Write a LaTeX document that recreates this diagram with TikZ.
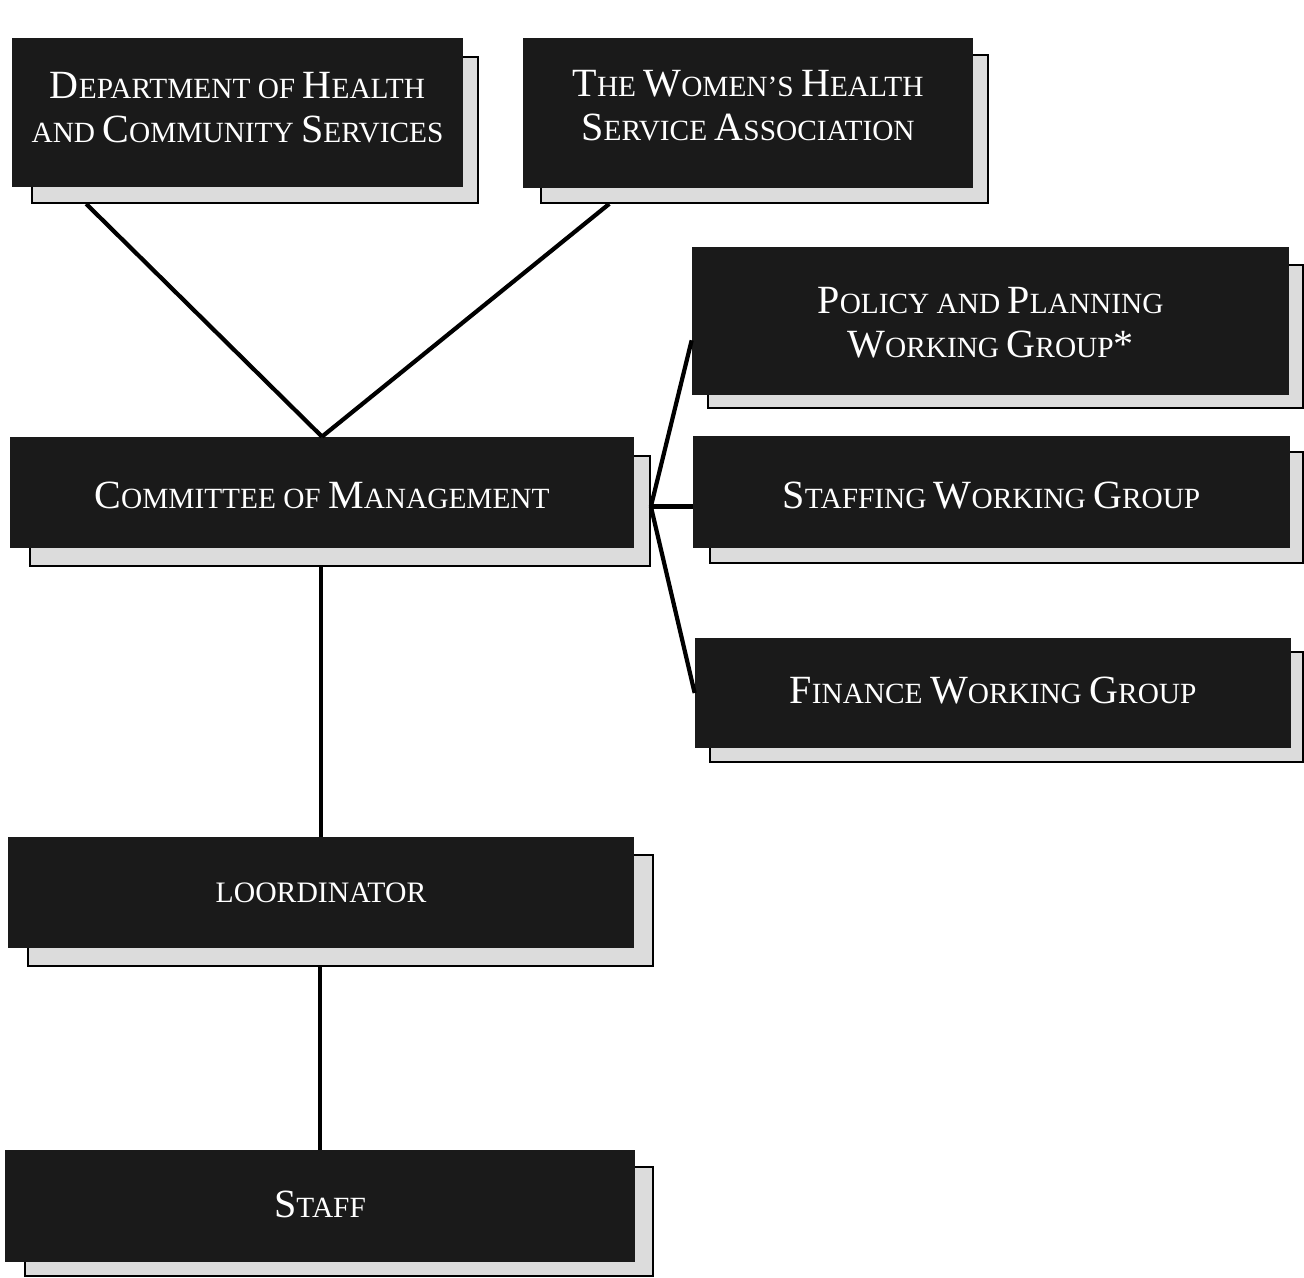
\documentclass[tikz,border=0pt]{standalone}
\usepackage{fontspec}
\setmainfont{Liberation Serif}
\usetikzlibrary{fit,calc}
\definecolor{boxblack}{HTML}{1A1A1A}
\definecolor{shadowgray}{HTML}{DCDCDC}
\newcommand\capL[1]{{\fontsize{22.8}{25}\selectfont #1}}
\newcommand\capS[1]{{\fontsize{16.7}{25}\selectfont #1}}
\tikzset{
  blackbox/.style={fill=boxblack, draw=none, text=white, inner sep=0pt, align=center},
  shadowbox/.style={fill=shadowgray, draw=black, line width=1pt, inner sep=0pt},
  label/.style={text=white, align=center, inner sep=0pt, font=\fontsize{16.7}{25}\selectfont},
  link/.style={draw=black, line width=2.4pt},
}
\begin{document}
\begin{tikzpicture}[x=0.02cm, y=-0.02cm]
\useasboundingbox (0,0) rectangle (1304,1277);
% shadows
\node[shadowbox, fit={(32,57) (478,203)}] (deptsh) {};
\node[shadowbox, fit={(541,55) (988,203)}] (womensh) {};
\node[shadowbox, fit={(708,265) (1303,408)}] (policysh) {};
\node[shadowbox, fit={(30,456) (650,566)}] (commsh) {};
\node[shadowbox, fit={(710,452) (1303,563)}] (staffingsh) {};
\node[shadowbox, fit={(710,652) (1303,762)}] (financesh) {};
\node[shadowbox, fit={(28,855) (653,966)}] (coordsh) {};
\node[shadowbox, fit={(25,1167) (653,1276)}] (staffsh) {};
% black boxes
\node[blackbox, fit={(12,38) (463,187)}] (dept) {};
\node[label] (depttext) at ($(dept.center)+(0,-5)$) {\capL{D}\capS{EPARTMENT OF }\capL{H}\capS{EALTH}\\ \capS{AND }\capL{C}\capS{OMMUNITY }\capL{S}\capS{ERVICES}};
\node[blackbox, fit={(523,38) (973,188)}] (women) {};
\node[label] (womentext) at ($(women.center)+(0,-7)$) {\capL{T}\capS{HE }\capL{W}\capS{OMEN'S }\capL{H}\capS{EALTH}\\ \capL{S}\capS{ERVICE }\capL{A}\capS{SSOCIATION}};
\node[blackbox, fit={(692,247) (1289,395)}] (policy) {};
\node[label] (policytext) at ($(policy.center)+(0,2)$) {\capL{P}\capS{OLICY AND }\capL{P}\capS{LANNING}\\ \capL{W}\capS{ORKING }\capL{G}\capS{ROUP}\capL{*}};
\node[blackbox, fit={(10,437) (634,548)}] (comm) {};
\node[label] (commtext) at ($(comm.center)+(0,3)$) {\capL{C}\capS{OMMITTEE OF }\capL{M}\capS{ANAGEMENT}};
\node[blackbox, fit={(693,436) (1290,548)}] (staffing) {};
\node[label] (staffingtext) at ($(staffing.center)+(0,4)$) {\capL{S}\capS{TAFFING }\capL{W}\capS{ORKING }\capL{G}\capS{ROUP}};
\node[blackbox, fit={(695,638) (1291,748)}] (finance) {};
\node[label] (financetext) at ($(finance.center)+(0,-2)$) {\capL{F}\capS{INANCE }\capL{W}\capS{ORKING }\capL{G}\capS{ROUP}};
\node[blackbox, fit={(8,837) (634,948)}] (coord) {};
\node[label, font=\fontsize{16.9}{19}\selectfont] (coordtext) at ($(coord.center)+(0,0)$) {LOORDINATOR};
\node[blackbox, fit={(5,1150) (635,1262)}] (staff) {};
\node[label] (stafftext) at ($(staff.center)+(0,-2)$) {\capL{S}\capS{TAFF}};
% connectors
\draw[link] ($(deptsh.south west)!0.123!(deptsh.south east)$) -- (comm.north);
\draw[link] ($(womensh.south west)!0.154!(womensh.south east)$) -- (comm.north);
\coordinate (junc) at ($(commsh.north east)!0.46!(commsh.south east)$);
\draw[link] (junc) -- ($(policy.south west)!0.37!(policy.north west)$);
\draw[link] (junc) -- (junc -| staffing.west);
\draw[link] (junc) -- (finance.west);
\draw[link] (coord.north |- commsh.south) -- (coord.north);
\draw[link] (staff.north |- coordsh.south) -- (staff.north);
\end{tikzpicture}
\end{document}
